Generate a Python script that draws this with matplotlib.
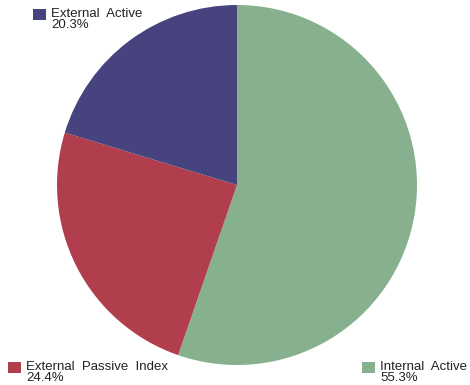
import matplotlib
matplotlib.use("Agg")
import matplotlib.pyplot as plt
from matplotlib.patches import Rectangle

labels = ["Internal  Active", "External  Passive  Index", "External  Active"]
values = [55.3, 24.4, 20.3]
pct_labels = ["55.3%", "24.4%", "20.3%"]
colors = ["#86b08e", "#b13e4c", "#47437f"]

W, H = 470, 385
fig = plt.figure(figsize=(W / 100, H / 100), dpi=100)
fig.patch.set_facecolor("white")

cx, cy, r = 237, 185, 180
ax = fig.add_axes([(cx - r) / W, 1 - (cy + r) / H, 2 * r / W, 2 * r / H])
ax.pie(values, colors=colors, startangle=90, counterclock=False,
       wedgeprops=dict(linewidth=0))
ax.set_xlim(-1, 1)
ax.set_ylim(-1, 1)
ax.set_aspect("auto")
ax.axis("off")

# legend-like labels: (square x, square y top) in pixels
positions = [(362, 362), (8, 362), (33, 9)]
font = dict(family="Liberation Sans", fontsize=9.5, color="#222222")
for (sx, sy), lab, pct, col in zip(positions, labels, pct_labels, colors):
    fig.patches.append(Rectangle((sx / W, 1 - (sy + 11) / H), 13 / W, 11 / H,
                                 transform=fig.transFigure, facecolor=col,
                                 edgecolor="none"))
    fig.text((sx + 18) / W, 1 - (sy - 1) / H, lab + "\n" + pct, va="top",
             ha="left", linespacing=0.85, **font)

fig.savefig("out.png", dpi=100)
